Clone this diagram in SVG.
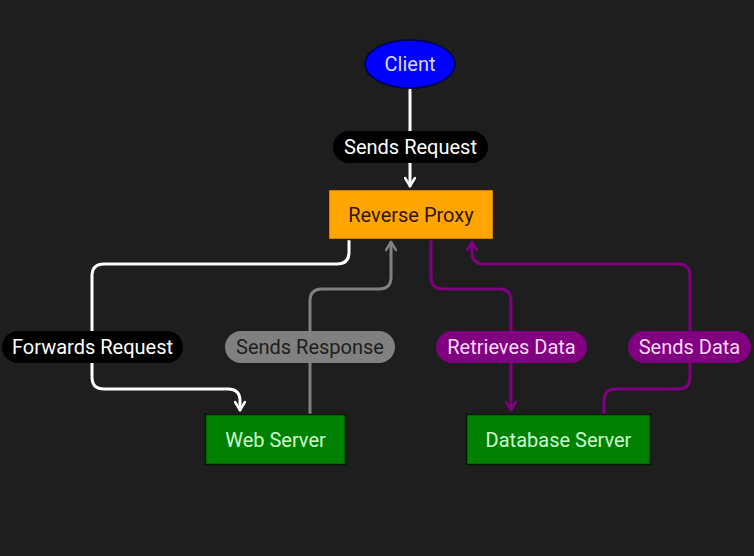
<svg xmlns="http://www.w3.org/2000/svg" width="754" height="556" viewBox="0 0 754 556">
<defs>
<style>
text{font-family:Roboto,"Liberation Sans",sans-serif;font-size:20px;text-anchor:middle;dominant-baseline:central}
.e{fill:none;stroke-width:3;stroke-linecap:round;stroke-linejoin:round}
.w{stroke:#ffffff}.g{stroke:#808080}.p{stroke:#800080}
.node{stroke-width:1.5}
</style>
<marker id="aw" viewBox="0 0 12 12" refX="10" refY="6" markerWidth="12" markerHeight="12" markerUnits="userSpaceOnUse" orient="auto"><path d="M2,1 L10,6 L2,11" fill="none" stroke="#ffffff" stroke-width="2.5" stroke-linecap="round" stroke-linejoin="round"/></marker>
<marker id="ag" viewBox="0 0 12 12" refX="10" refY="6" markerWidth="12" markerHeight="12" markerUnits="userSpaceOnUse" orient="auto"><path d="M2,1 L10,6 L2,11" fill="none" stroke="#808080" stroke-width="2.5" stroke-linecap="round" stroke-linejoin="round"/></marker>
<marker id="ap" viewBox="0 0 12 12" refX="10" refY="6" markerWidth="12" markerHeight="12" markerUnits="userSpaceOnUse" orient="auto"><path d="M2,1 L10,6 L2,11" fill="none" stroke="#800080" stroke-width="2.5" stroke-linecap="round" stroke-linejoin="round"/></marker>
</defs>
<rect width="754" height="556" fill="#1e1e1e"/>
<g id="connectors">
<path class="e w" d="M410,90 V186" marker-end="url(#aw)"/>
<path class="e w" d="M349,240 V252 Q349,264 337,264 H104 Q92,264 92,276 V377 Q92,389 104,389 H228 Q240,389 240,401 V410" marker-end="url(#aw)"/>
<path class="e g" d="M310,413 V301 Q310,289 322,289 H379 Q391,289 391,277 V242" marker-end="url(#ag)"/>
<path class="e p" d="M431,240 V277 Q431,289 443,289 H499 Q511,289 511,301 V410" marker-end="url(#ap)"/>
<path class="e p" d="M604,413 V401 Q604,389 616,389 H678 Q690,389 690,377 V276 Q690,264 678,264 H484 Q472,264 472,252 V242" marker-end="url(#ap)"/>
<g id="label-sends-request"><rect x="333" y="131" width="155" height="32" rx="16" fill="#000000"/><text x="410.5" y="147" fill="#ffffff">Sends Request</text></g>
<g id="label-forwards-request"><rect x="2" y="331" width="181" height="32" rx="16" fill="#000000"/><text x="92.5" y="347" fill="#ffffff">Forwards Request</text></g>
<g id="label-sends-response"><rect x="225" y="331" width="170" height="32" rx="16" fill="#808080"/><text x="310" y="347" fill="#1e1e1e">Sends Response</text></g>
<g id="label-retrieves-data"><rect x="436" y="331" width="151" height="32" rx="16" fill="#800080"/><text x="511.5" y="347" fill="#ffd9ff">Retrieves Data</text></g>
<g id="label-sends-data"><rect x="628" y="331" width="123" height="32" rx="16" fill="#800080"/><text x="689.5" y="347" fill="#ffd9ff">Sends Data</text></g>
</g>
<g id="client"><ellipse class="node" cx="410" cy="64" rx="45" ry="24" fill="#0000ff" stroke="#00004d"/><text x="410" y="64" fill="#d9d9ff">Client</text></g>
<g id="reverse-proxy"><rect class="node" x="328.5" y="189.5" width="165" height="50" fill="#ffa500" stroke="#331a00"/><text x="411" y="214.5" fill="#331400">Reverse Proxy</text></g>
<g id="web-server"><rect class="node" x="205.5" y="414.5" width="140" height="50" fill="#008000" stroke="#001a00"/><text x="275.5" y="439.5" fill="#ccffcc">Web Server</text></g>
<g id="database-server"><rect class="node" x="466.5" y="414.5" width="184" height="50" fill="#008000" stroke="#001a00"/><text x="558.5" y="439.5" fill="#ccffcc">Database Server</text></g>
</svg>
